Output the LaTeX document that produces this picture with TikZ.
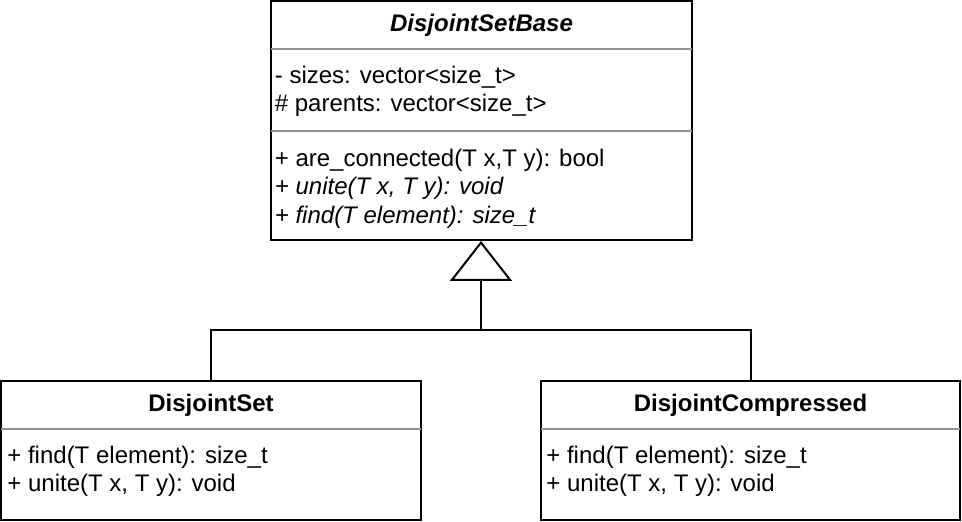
\documentclass[tikz,border=0pt]{standalone}
\usepackage{fontspec}
\setmainfont{Liberation Sans}
\usetikzlibrary{arrows.meta}

\tikzset{
  classbox/.style={draw, line width=1pt, inner sep=0pt},
  member/.style={anchor=base west, inner sep=0pt, font=\fontsize{12}{14}\selectfont},
  classname/.style={anchor=base, inner sep=0pt, font=\fontsize{12}{14}\selectfont\bfseries},
  divider/.style={line width=0.7pt, black!42},
}

\begin{document}
\begin{tikzpicture}[x=0.5pt, y=-0.5pt]
\useasboundingbox (0,0) rectangle (962,522);
% classes
\node[classbox, minimum width=210.5pt, minimum height=119.5pt] (base) at (481.5,120.5) {};
\node[classbox, minimum width=210pt, minimum height=69.5pt] (dset) at (211,450.5) {};
\node[classbox, minimum width=209.5pt, minimum height=69.5pt] (dcomp) at (750.5,450.5) {};
\draw [divider] (271,49) -- (692,49);
\draw [divider] (271,131) -- (692,131);
\draw [divider] (1,429) -- (421,429);
\draw [divider] (541,429) -- (960,429);
% names and members
\node[classname, font=\fontsize{12}{14}\selectfont\bfseries\itshape] (basename) at (481.5,32) {DisjointSetBase};
\node[member] (sizes) at (274.5,83.5) {- sizes: vector<size\_t>};
\node[member] (parents) at (274.5,111.5) {\# parents: vector<size\_t>};
\node[member] (connected) at (274.5,166.5) {+ are\_connected(T x,T y): bool};
\node[member, font=\fontsize{12}{14}\selectfont\itshape] (baseunite) at (274.5,195) {+ unite(T x, T y): void};
\node[member, font=\fontsize{12}{14}\selectfont\itshape] (basefind) at (274.5,223.5) {+ find(T element): size\_t};
\node[classname] (dsetname) at (211,412) {DisjointSet};
\node[member] (dsetfind) at (7,464) {+ find(T element): size\_t};
\node[member] (dsetunite) at (7,492) {+ unite(T x, T y): void};
\node[classname] (dcompname) at (750.5,412) {DisjointCompressed};
\node[member] (dcompfind) at (546,464) {+ find(T element): size\_t};
\node[member] (dcompunite) at (546,492) {+ unite(T x, T y): void};
% inheritance
\coordinate (join) at (481,330);
\draw [line width=1pt] (dset.north) |- (join);
\draw [line width=1pt] (dcomp.north) |- (join);
\draw [line width=1pt, -{Triangle[open, length=20pt, width=31pt]}] (join) -- (join |- base.south);
\end{tikzpicture}
\end{document}
